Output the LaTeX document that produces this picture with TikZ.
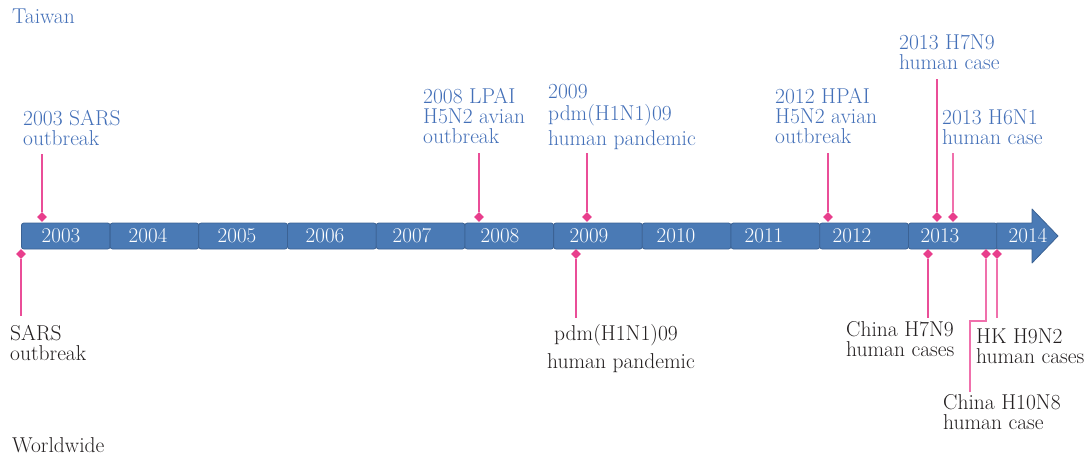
\documentclass[tikz,border=0pt]{standalone}
\usepackage{fontspec}
\usepackage{tikz}
\usetikzlibrary{shapes.geometric}

\definecolor{barblue}{HTML}{4A7AB5}
\definecolor{barline}{HTML}{3B6294}
\definecolor{twblue}{HTML}{4470B8}
\definecolor{mark}{HTML}{E83E8C}
\definecolor{stem}{HTML}{EA4E98}
\definecolor{stemlight}{HTML}{F070AC}
\definecolor{wwblack}{HTML}{231F20}

\begin{document}
\begin{tikzpicture}[x=1pt,y=-1pt]

\useasboundingbox (0,0) rectangle (1087,456);

\tikzset{YearBox/.style = {draw=barline, fill=barblue, line width=.8pt,
                           rounded corners=2.5pt, anchor=west,
                           minimum width=88.7pt, minimum height=26pt, inner sep=0pt}}
\tikzset{YearText/.style = {text=white, anchor=base, inner sep=0pt,
                            font=\fontsize{21}{20}\selectfont}}
\tikzset{Dot/.style = {diamond, fill=mark, minimum size=10pt, inner sep=0pt}}
\tikzset{Stem/.style = {stem, line width=1.4pt}}
\tikzset{TwText/.style = {text=twblue, align=left, anchor=base west, inner sep=0pt,
                          font=\fontsize{21.5}{20}\selectfont}}
\tikzset{WwText/.style = {text=wwblack, align=left, anchor=base west, inner sep=0pt,
                          font=\fontsize{21.5}{20}\selectfont}}

\node[TwText] (taiwan) at (12,23) {Taiwan};
\node[WwText] (world) at (12,452) {Worldwide};

\node[YearBox] (b2003) at (21,236) {};
\node[YearBox] (b2004) at (109.7,236) {};
\node[YearBox] (b2005) at (198.4,236) {};
\node[YearBox] (b2006) at (287.1,236) {};
\node[YearBox] (b2007) at (375.8,236) {};
\node[YearBox] (b2008) at (464.5,236) {};
\node[YearBox] (b2009) at (553.2,236) {};
\node[YearBox] (b2010) at (641.9,236) {};
\node[YearBox] (b2011) at (730.6,236) {};
\node[YearBox] (b2012) at (819.3,236) {};
\node[YearBox] (b2013) at (908,236) {};

\draw[draw=barline, fill=barblue, line width=.8pt, line join=round]
  (996.7,223) -- (1032,223) -- (1032,209) -- (1058,236) -- (1032,263)
  -- (1032,249) -- (996.7,249) -- cycle;

\node[YearText] (t2003) at (61,242) {2003};
\node[YearText] (t2004) at (148,242) {2004};
\node[YearText] (t2005) at (237,242) {2005};
\node[YearText] (t2006) at (325,242) {2006};
\node[YearText] (t2007) at (412,242) {2007};
\node[YearText] (t2008) at (500,242) {2008};
\node[YearText] (t2009) at (589,242) {2009};
\node[YearText] (t2010) at (676,242) {2010};
\node[YearText] (t2011) at (764,242) {2011};
\node[YearText] (t2012) at (852,242) {2012};
\node[YearText] (t2013) at (940,242) {2013};
\node[YearText] (t2014) at (1028,242) {2014};

% Taiwan
\node[TwText] (tw2003) at (23,145) {2003 SARS\\outbreak};
\node[TwText] (tw2008) at (423,143) {2008 LPAI\\H5N2 avian\\outbreak};
\node[TwText] (tw2009) at (548,145) {2009\\[2pt]pdm(H1N1)09\\[3pt]human pandemic};
\node[TwText] (tw2012) at (775,143) {2012 HPAI\\H5N2 avian\\outbreak};
\node[TwText] (tw2013a) at (899,69) {2013 H7N9\\human case};
\node[TwText] (tw2013b) at (942,144) {2013 H6N1\\human case};

\coordinate (e2003) at (42,154);
\coordinate (e2008) at (479,153);
\coordinate (e2009) at (587,153);
\coordinate (e2012) at (828,153);
\coordinate (e2013a) at (937,79);
\coordinate (e2013b) at (953,153);

\node[Dot] (d2003) at (42,217) {};
\node[Dot] (d2008) at (479,217) {};
\node[Dot] (d2009) at (587,217) {};
\node[Dot] (d2012) at (828,217) {};
\node[Dot] (d2013a) at (937,217) {};
\node[Dot] (d2013b) at (953,217) {};

\draw[Stem] (d2003) -- (e2003);
\draw[Stem] (d2008) -- (e2008);
\draw[Stem] (d2009) -- (e2009);
\draw[Stem] (d2012) -- (e2012);
\draw[Stem] (d2013a) -- (e2013a);
\draw[Stem, stemlight] (d2013b) -- (e2013b);

% Worldwide
\node[WwText] (wsars) at (10,360) {SARS\\outbreak};
\node[WwText] (wpdm) at (547,368) {\hspace*{7pt}pdm(H1N1)09\\[6pt]human pandemic};
\node[WwText] (wh7n9) at (846,356) {China H7N9\\human cases};
\node[WwText] (wh9n2) at (976,363) {HK H9N2\\human cases};
\node[WwText] (wh10n8) at (943,429) {China H10N8\\human case};

\coordinate (fsars) at (21,316);
\coordinate (fpdm) at (576,318);
\coordinate (fh7n9) at (928,318);
\coordinate (fh10n8) at (970,392);
\coordinate (fh9n2) at (997,318);

\node[Dot] (dsars) at (21,254) {};
\node[Dot] (dpdm) at (576,254) {};
\node[Dot] (dh7n9) at (928,254) {};
\node[Dot] (dh10n8) at (986,254) {};
\node[Dot] (dh9n2) at (997,254) {};

\draw[Stem] (dsars) -- (fsars);
\draw[Stem] (dpdm) -- (fpdm);
\draw[Stem] (dh7n9) -- (fh7n9);
\draw[Stem, stemlight] (dh10n8) -- ++(0,67) -| (fh10n8);
\draw[Stem, stemlight] (dh9n2) -- (fh9n2);

\end{tikzpicture}
\end{document}
